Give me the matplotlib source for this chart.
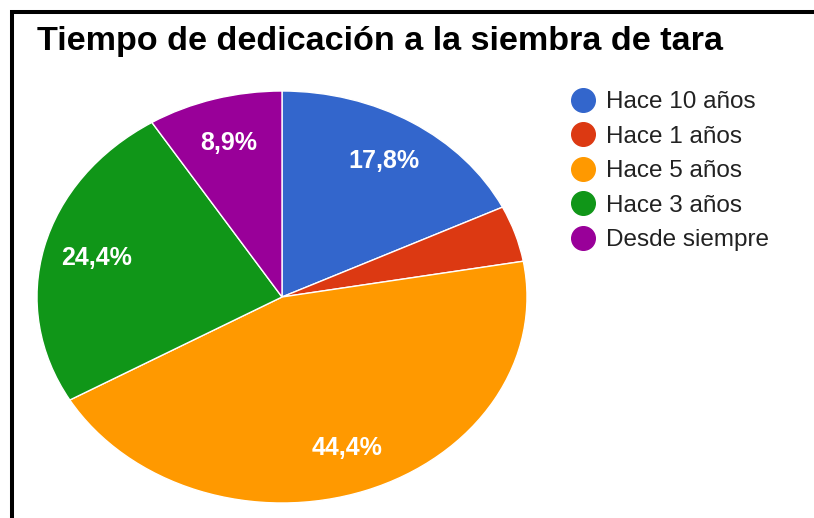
import matplotlib
matplotlib.use("Agg")
import matplotlib.pyplot as plt
from matplotlib.lines import Line2D
from matplotlib.patches import Rectangle

# ---- data ----
categories = ["Hace 10 años", "Hace 1 años", "Hace 5 años", "Hace 3 años", "Desde siempre"]
values = [17.8, 4.4, 44.4, 24.4, 8.9]
colors = ["#3366cc", "#dc3912", "#ff9900", "#109618", "#990099"]
title = "Tiempo de dedicación a la siembra de tara"

W, H = 814, 518
plt.rcParams["font.family"] = ["Liberation Sans", "DejaVu Sans"]
fig = plt.figure(figsize=(W / 100, H / 100), dpi=100)
fig.patch.set_facecolor("white")

# pie axes (ellipse: stretched horizontally like the reference)
cx, cy, rx, ry = 282, 297, 245, 206
ax = fig.add_axes([(cx - rx) / W, (H - cy - ry) / H, 2 * rx / W, 2 * ry / H])


def fmt(p):
    return (f"{p:.1f}".replace(".", ",") + "%") if p > 5 else ""


wedges, texts, autotexts = ax.pie(
    values, colors=colors, startangle=90, counterclock=False,
    autopct=fmt, pctdistance=0.78,
    wedgeprops=dict(edgecolor="white", linewidth=1.0),
    textprops=dict(color="white", fontsize=18, fontweight="bold"),
)
ax.set_aspect("auto")
ax.set_xlim(-1, 1)
ax.set_ylim(-1, 1)
ax.axis("off")

# title
fig.text(37 / W, 1 - 50 / H, title, fontsize=24.6, fontweight="bold",
         color="black", ha="left", va="baseline")

# legend
handles = [Line2D([], [], marker="o", linestyle="none", markersize=17,
                  markerfacecolor=c, markeredgecolor=c) for c in colors]
fs = 17.5
fig.legend(handles, categories, loc="upper left",
           bbox_to_anchor=(571 / W, 1 - 91 / H), frameon=False,
           fontsize=fs, labelcolor="#222222", handlelength=0.95,
           handletextpad=0.5, labelspacing=0.515, borderpad=0,
           borderaxespad=0)

# black frame (top and left edges visible)
top = 1 - 11.5 / H
fig.add_artist(Rectangle((12 / W, -0.2), 1.2, top + 0.2,
                         transform=fig.transFigure, fill=False,
                         edgecolor="black", linewidth=2.9, clip_on=False))

fig.savefig("out.png", dpi=100, facecolor="white")
